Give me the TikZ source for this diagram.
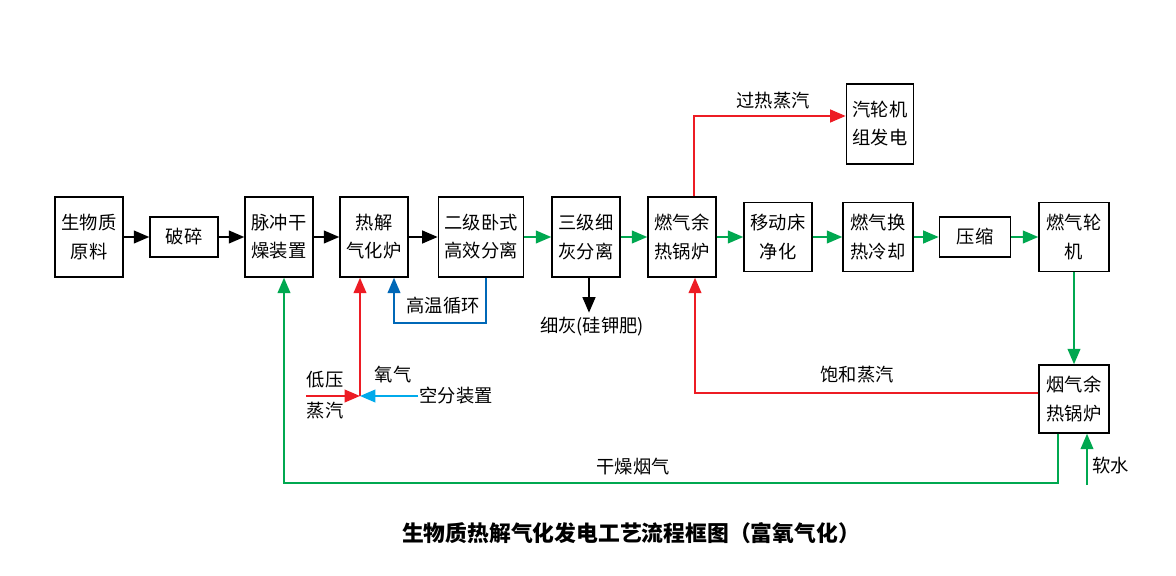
\documentclass[tikz,border=0pt]{standalone}
\usepackage{fontspec}
\setmainfont{Noto Sans CJK SC}
\usetikzlibrary{arrows.meta,calc}
\definecolor{rd}{RGB}{237,28,36}
\definecolor{gn}{RGB}{0,168,80}
\definecolor{bl}{RGB}{0,104,183}
\definecolor{cy}{RGB}{0,170,235}
\tikzset{
  box/.style={draw, line width=1pt, align=center, inner sep=0pt,
    minimum width=1.7cm, minimum height=2cm,
    font=\fontsize{13}{20}\selectfont},
  lbl/.style={font=\fontsize{13}{20}\selectfont, inner sep=1pt},
  flow/.style={line width=1.5pt, -{Triangle[length=11pt,width=9pt]}},
  blk/.style={flow, black},
  grn/.style={flow, gn},
  red/.style={flow, rd},
  blu/.style={flow, bl},
  cya/.style={flow, cy}
}

\begin{document}
\begin{tikzpicture}[x=0.025cm, y=-0.025cm]
\useasboundingbox (0,0) rectangle (1176,576);
% main row
\node[box] (raw) at (89,237) {生物质\\原料};
\node[box, minimum width=1.7cm, minimum height=1cm] (crush) at (184,237) {破碎};
\node[box] (dryer) at (279,237) {脉冲干\\燥装置};
\node[box] (pyro) at (374,237) {热解\\气化炉};
\node[box, minimum width=2.13cm] (sep2) at (481,237) {二级卧式\\高效分离};
\node[box] (sep3) at (586,237) {三级细\\灰分离};
\node[box] (hrsg) at (682,237) {燃气余\\热锅炉};
\node[box, minimum height=1.73cm] (bed) at (778,237) {移动床\\净化};
\node[box, minimum height=1.73cm, minimum width=1.75cm] (cool) at (878,237) {燃气换\\热冷却};
\node[box, minimum width=1.78cm, minimum height=1cm] (comp) at (975,237) {压缩};
\node[box, minimum height=1.73cm, minimum width=1.75cm] (gt) at (1074,237) {燃气轮\\机};
% upper and lower boxes
\node[box, minimum width=1.68cm] (st) at (880,124) {汽轮机\\组发电};
\node[box, minimum height=1.7cm, minimum width=1.75cm] (whb) at (1074,399) {烟气余\\热锅炉};

\draw[blk] (raw) -- (crush);
\draw[blk] (crush) -- (dryer);
\draw[blk] (dryer) -- (pyro);
\draw[blk] (pyro) -- (sep2);
\draw[grn] (sep2) -- (sep3);
\draw[grn] (sep3) -- (hrsg);
\draw[grn] (hrsg) -- (bed);
\draw[grn] (bed) -- (cool);
\draw[grn] (cool) -- (comp);
\draw[grn] (comp) -- (gt);
\draw[grn] (gt) -- (whb);

% superheated steam
\node[lbl] (sh) at (773,101) {过热蒸汽};
\draw[red] ($(hrsg.north)+(12,0)$) |- ($(st.west)+(0,-8)$);

% fine ash
\node[lbl] (ash) at (592,327) {细灰(硅钾肥)};
\draw[blk] ($(sep3.south)+(3,0)$) -- ++(0,35);

% high temperature recirculation
\node[lbl] (loop) at (443,306) {高温循环};
\draw[blu] ($(sep2.south)+(5,0)$) -- ++(0,45) -| ($(pyro.south)+(20,0)$);

% steam and oxygen
\coordinate (mix) at (360,396);
\coordinate (lp) at (306,396);
\node[lbl] at (325,380) {低压};
\node[lbl] at (325,411) {蒸汽};
\node[lbl] at (393,375) {氧气};
\node[lbl, anchor=west] (asu) at (418,396) {空分装置};
\draw[red] (lp) -- (mix);
\draw[red] (mix) -- (pyro.south -| mix);
\draw[cya] (asu.west) -- (mix);

% saturated steam
\node[lbl] (sat) at (857,375) {饱和蒸汽};
\draw[red] ($(whb.west)+(0,-6)$) -| ($(hrsg.south)+(13,0)$);

% dry flue gas
\node[lbl] (dry) at (633,467) {干燥烟气};
\draw[grn] ($(whb.south)+(-16,0)$) -- ++(0,49) -| ($(dryer.south)+(5,0)$);

% soft water
\coordinate (water) at (1087,485);
\node[lbl, anchor=west] (sw) at (1091,466) {软水};
\draw[grn] (water) -- (whb.south -| water);

% title
\node[font=\fontsize{15.5}{18}\selectfont\bfseries] (title) at (631,533) {生物质热解气化发电工艺流程框图（富氧气化）};
\end{tikzpicture}
\end{document}
